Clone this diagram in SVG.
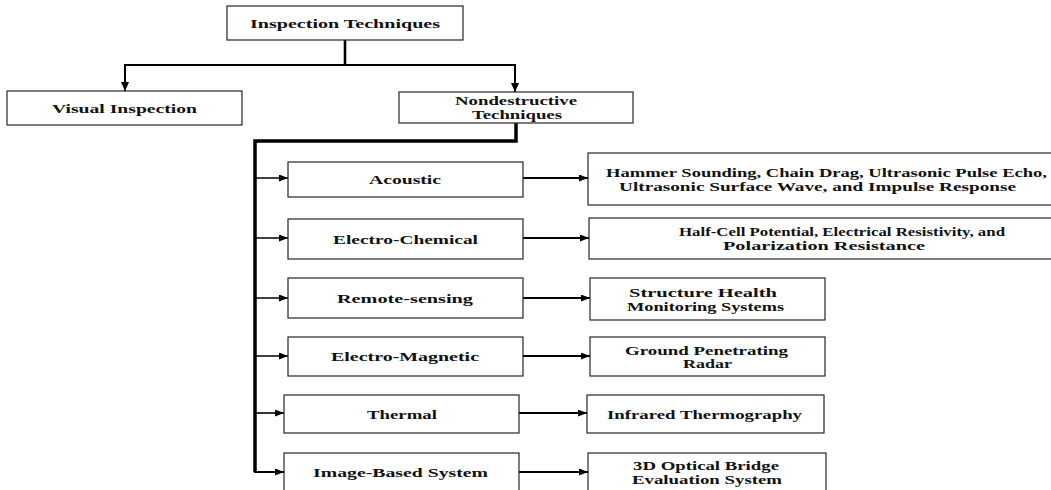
<svg xmlns="http://www.w3.org/2000/svg" width="1051" height="490" viewBox="0 0 1051 490">
<style>
  .box { fill: #ffffff; stroke: #262626; stroke-width: 1.2; }
  .t { font-family: "Liberation Serif", "Times New Roman", serif; font-weight: bold; font-size: 13.5px; fill: #111111; }
  .thin { fill: none; stroke: #000000; stroke-width: 1.6; }
  .mid { fill: none; stroke: #000000; stroke-width: 2; }
  .thick { fill: none; stroke: #000000; stroke-width: 3.5; }
</style>
<defs>
  <marker id="ah" markerWidth="9" markerHeight="7" refX="9" refY="3.5" orient="auto" markerUnits="userSpaceOnUse">
    <path d="M0,0 L9,3.5 L0,7 z" fill="#000000"/>
  </marker>
  <marker id="ahd" markerWidth="9" markerHeight="8" refX="9" refY="4" orient="auto" markerUnits="userSpaceOnUse">
    <path d="M0,0 L9,4 L0,8 z" fill="#000000"/>
  </marker>
</defs>
<rect width="1051" height="490" fill="#ffffff"/>

<g id="connectors">
  <path class="mid" d="M345,40 V65" style="stroke-width:2.6"/>
  <path class="mid" d="M345,65 H125 V91" marker-end="url(#ahd)"/>
  <path class="mid" d="M345,65 H515 V92" marker-end="url(#ahd)"/>
  <path class="thick" d="M516,123 V141 H255 V472"/>
  <path class="thin" d="M255,178 H288" marker-end="url(#ah)"/>
  <path class="thin" d="M255,238 H288" marker-end="url(#ah)"/>
  <path class="thin" d="M255,298 H288" marker-end="url(#ah)"/>
  <path class="thin" d="M255,356 H288" marker-end="url(#ah)"/>
  <path class="thin" d="M255,413 H284" marker-end="url(#ah)"/>
  <path class="mid" d="M254,472 H284" marker-end="url(#ah)"/>
  <path class="mid" d="M523,178 H588" marker-end="url(#ah)"/>
  <path class="mid" d="M523,238 H589" marker-end="url(#ah)"/>
  <path class="mid" d="M523,298 H590" marker-end="url(#ah)"/>
  <path class="mid" d="M523,356 H590" marker-end="url(#ah)"/>
  <path class="mid" d="M519,413 H587" marker-end="url(#ah)"/>
  <path class="mid" d="M519,472 H588" marker-end="url(#ah)"/>
</g>

<g id="node-inspection">
  <rect class="box" x="227" y="6" width="236" height="34"/>
  <text class="t" x="250" y="27.5" textLength="190" lengthAdjust="spacingAndGlyphs">Inspection Techniques</text>
</g>
<g id="node-visual">
  <rect class="box" x="7" y="91" width="235" height="34"/>
  <text class="t" x="52" y="112.5" textLength="145" lengthAdjust="spacingAndGlyphs">Visual Inspection</text>
</g>
<g id="node-nondestructive">
  <rect class="box" x="399" y="92" width="234" height="31"/>
  <text class="t" x="455" y="104.5" textLength="122" lengthAdjust="spacingAndGlyphs">Nondestructive</text>
  <text class="t" x="472" y="118.5" textLength="90" lengthAdjust="spacingAndGlyphs">Techniques</text>
</g>

<g id="node-acoustic">
  <rect class="box" x="288" y="162" width="235" height="35"/>
  <text class="t" x="369" y="184" textLength="72" lengthAdjust="spacingAndGlyphs">Acoustic</text>
</g>
<g id="node-electrochemical">
  <rect class="box" x="288" y="219" width="235" height="40"/>
  <text class="t" x="333" y="243.5" textLength="145" lengthAdjust="spacingAndGlyphs">Electro-Chemical</text>
</g>
<g id="node-remote">
  <rect class="box" x="288" y="278" width="235" height="40"/>
  <text class="t" x="337" y="302.5" textLength="136" lengthAdjust="spacingAndGlyphs">Remote-sensing</text>
</g>
<g id="node-electromagnetic">
  <rect class="box" x="288" y="337" width="235" height="39"/>
  <text class="t" x="331" y="361" textLength="148" lengthAdjust="spacingAndGlyphs">Electro-Magnetic</text>
</g>
<g id="node-thermal">
  <rect class="box" x="284" y="395" width="235" height="38"/>
  <text class="t" x="367" y="418.5" textLength="70" lengthAdjust="spacingAndGlyphs">Thermal</text>
</g>
<g id="node-imagebased">
  <rect class="box" x="284" y="453" width="235" height="42"/>
  <text class="t" x="313" y="476.5" textLength="175" lengthAdjust="spacingAndGlyphs">Image-Based System</text>
</g>

<g id="node-hammer">
  <rect class="box" x="588" y="153" width="470" height="52"/>
  <text class="t" x="606" y="177" textLength="441" lengthAdjust="spacingAndGlyphs">Hammer Sounding, Chain Drag, Ultrasonic Pulse Echo,</text>
  <text class="t" x="619" y="191" textLength="397" lengthAdjust="spacingAndGlyphs">Ultrasonic Surface Wave, and Impulse Response</text>
</g>
<g id="node-halfcell">
  <rect class="box" x="589" y="218" width="470" height="41"/>
  <text class="t" x="679" y="235.5" textLength="326" lengthAdjust="spacingAndGlyphs">Half-Cell Potential, Electrical Resistivity, and</text>
  <text class="t" x="723" y="249.5" textLength="202" lengthAdjust="spacingAndGlyphs">Polarization Resistance</text>
</g>
<g id="node-shm">
  <rect class="box" x="590" y="278" width="235" height="42"/>
  <text class="t" x="629" y="296.5" textLength="148" lengthAdjust="spacingAndGlyphs">Structure Health</text>
  <text class="t" x="627" y="310.5" textLength="157" lengthAdjust="spacingAndGlyphs">Monitoring Systems</text>
</g>
<g id="node-gpr">
  <rect class="box" x="590" y="337" width="235" height="39"/>
  <text class="t" x="625" y="354.5" textLength="163" lengthAdjust="spacingAndGlyphs">Ground Penetrating</text>
  <text class="t" x="683" y="368" textLength="49" lengthAdjust="spacingAndGlyphs">Radar</text>
</g>
<g id="node-infrared">
  <rect class="box" x="587" y="395" width="237" height="38"/>
  <text class="t" x="607" y="418.5" textLength="195" lengthAdjust="spacingAndGlyphs">Infrared Thermography</text>
</g>
<g id="node-3d">
  <rect class="box" x="588" y="453" width="238" height="42"/>
  <text class="t" x="633" y="469.5" textLength="146" lengthAdjust="spacingAndGlyphs">3D Optical Bridge</text>
  <text class="t" x="632" y="483.5" textLength="150" lengthAdjust="spacingAndGlyphs">Evaluation System</text>
</g>
</svg>
